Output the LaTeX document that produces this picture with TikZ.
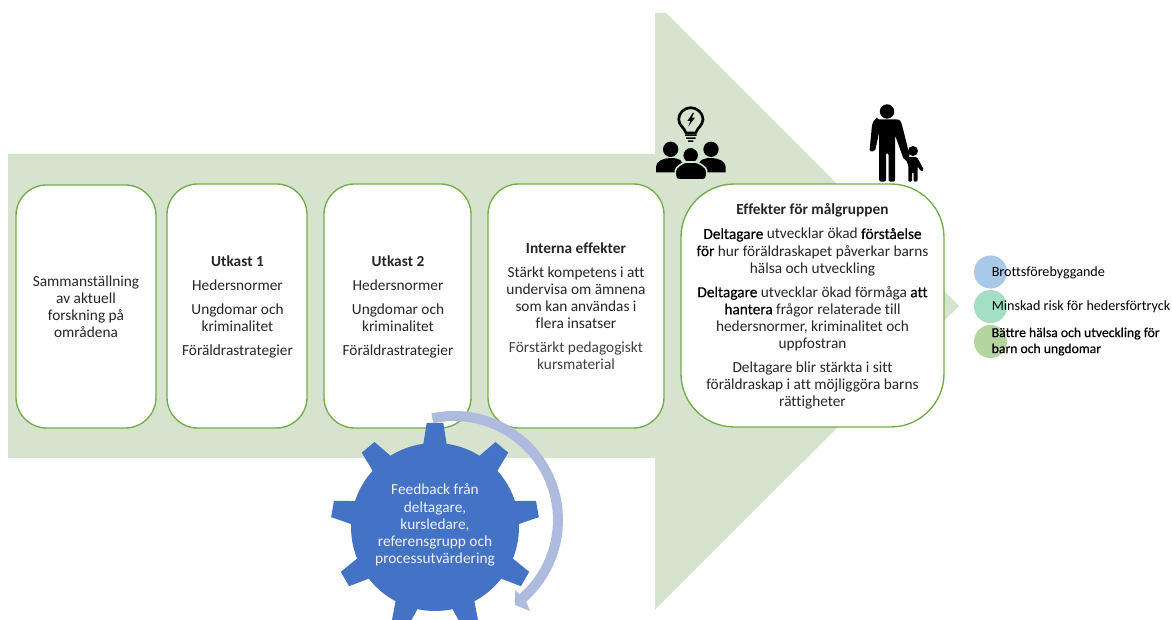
\documentclass[tikz,border=0pt]{standalone}
\usepackage{fontspec}
\setmainfont[Ligatures=NoCommon]{Carlito}
\newfontfamily\semibold[Ligatures=NoCommon,FakeBold=0.5]{Carlito}
\definecolor{arrowgreen}{HTML}{D6E3CF}
\definecolor{boxline}{HTML}{70AD47}
\definecolor{gearblue}{HTML}{4472C4}
\definecolor{ringblue}{HTML}{AFBBDE}
\definecolor{bodytext}{HTML}{262626}
\definecolor{softtext}{HTML}{404040}
\definecolor{bubbleblue}{HTML}{A9C9E8}
\definecolor{bubblemint}{HTML}{A3DFC3}
\definecolor{bubbleolive}{HTML}{B5D59F}
\definecolor{geartext}{HTML}{EEF2FA}
\tikzset{
  x=0.75pt,y=-0.75pt,
  stepbox/.style={draw=boxline,line width=1pt,fill=white},
  boxtext/.style={align=center,inner sep=0pt,text=bodytext,font=\fontsize{11.5}{12.8}\selectfont},
  outtext/.style={anchor=west,align=left,inner sep=0pt,text=black,font=\fontsize{10.6}{12}\selectfont},
  outtextb/.style={anchor=west,align=left,inner sep=0pt,text=black,font=\fontsize{10.25}{12}\selectfont},
  geartextstyle/.style={align=center,inner sep=0pt,text=geartext,font=\fontsize{11.5}{12.8}\selectfont},
  bubble/.style={circle,inner sep=0pt,minimum size=24.8pt},
}
\newcommand{\gap}{\\[5.3pt]}
\newcommand{\semib}[1]{{\semibold\color{black}#1}}
\begin{document}
\begin{tikzpicture}
\useasboundingbox (0,0) rectangle (1172,620);
\clip (0,0) rectangle (1172,620);
\fill[white] (0,0) rectangle (1172,620);
% big arrow
\fill[arrowgreen] (8,154) -- (655,154) -- (655,13) -- (666,13) -- (959,306) -- (655,609.5) -- (655,458) -- (8,458) -- cycle;
% boxes
\draw[stepbox,rounded corners=23] (16,185) rectangle (156,428);
\draw[stepbox,rounded corners=23] (167,184) rectangle (307,428);
\draw[stepbox,rounded corners=23] (324,184) rectangle (471,428);
\draw[stepbox,rounded corners=23] (488,184) rectangle (664,428);
\draw[stepbox,rounded corners=40] (681,184) rectangle (944,427);
\node[boxtext] (b1) at (86,307) {Sammanställning\\av aktuell\\forskning på\\områdena};
\node[boxtext] (b2) at (237.5,307) {\textbf{Utkast 1}\gap Hedersnormer\gap Ungdomar och\\kriminalitet\gap Föräldrastrategier};
\node[boxtext] (b3) at (398,307) {\textbf{Utkast 2}\gap Hedersnormer\gap Ungdomar och\\kriminalitet\gap Föräldrastrategier};
\node[boxtext] (b4) at (576,306) {\textbf{Interna effekter}\gap Stärkt kompetens i att\\undervisa om ämnena\\som kan användas i\\flera insatser\gap {\color{softtext}Förstärkt pedagogiskt}\\{\color{softtext}kursmaterial}};
\node[boxtext] (b5) at (812.5,306.5) {\textbf{Effekter för målgruppen}\gap \semib{Deltagare} utvecklar ökad \semib{förståelse}\\\semib{för} hur föräldraskapet påverkar barns\\hälsa och utveckling\gap \semib{Deltagare} utvecklar ökad förmåga \semib{att}\\\semib{hantera} frågor relaterade till\\hedersnormer, kriminalitet och\\uppfostran\gap Deltagare blir stärkta i sitt\\föräldraskap i att möjliggöra barns\\rättigheter};
% outcomes
\node[bubble,fill=bubbleblue] (c1) at (990.5,272) {};
\node[bubble,fill=bubblemint] (c2) at (990.5,306.5) {};
\node[bubble,fill=bubbleolive] (c3) at (990.5,341.5) {};
\node[outtext] (t1) at (991.5,272.5) {Brottsförebyggande};
\node[outtext] (t2) at (991.5,307) {Minskad risk för hedersförtryck};
\node[outtextb] (t3) at (991.5,341.5) {\semibold Bättre hälsa och utveckling för\\\semibold barn och ungdomar};
% gear
\fill[gearblue] (435,527) circle[radius=84];
\foreach \a in {90,50,10,-30,-70,-110,-150,170,130}{
  \fill[gearblue,shift={(435,527)},rotate=\a] (78,-12.5) -- (104,-8.3) -- (104,8.3) -- (78,12.5) -- cycle;
}
\node[geartextstyle] (g) at (435,525) {Feedback från\\deltagare,\\kursledare,\\referensgrupp och\\processutvärdering};
% ring arrow
\fill[ringblue] plot[domain=-102:48.5,samples=60] ({454+109*cos(\x)},{520+109*sin(\x)})
  -- (530,611) -- (515,605) -- (515,590)
  -- plot[domain=48.5:-102,samples=60] ({454+99*cos(\x)},{520+99*sin(\x)}) -- cycle;
% people with lightbulb
\begin{scope}[shift={(650,100)}]
\begin{scope}[x=0.25pt,y=-0.25pt]
  \draw[black,line width=2pt,line join=round] (108,99) .. controls (104,84) and (86,76) .. (86,58) .. controls (86,38) and (104,23) .. (122,23) .. controls (140,23) and (159,38) .. (159,58) .. controls (159,76) and (141,84) .. (137,99) -- cycle;
  \fill[black] (128,39) -- (112,63) -- (121,63) -- (115,79) -- (135,53) -- (125,53) -- (132,39) -- cycle;
  \fill[black] (105,103) rectangle (140,108) (108,112) rectangle (137,117) (114,121) rectangle (130,126);
  \fill[black] (62,148) circle[radius=23] (183,148) circle[radius=23];
  \fill[black] (18,217) -- (18,200) .. controls (18,184) and (40,174) .. (62,174) .. controls (85,174) and (100,180) .. (100,200) -- (75,217) -- cycle;
  \fill[black] (227,217) -- (227,200) .. controls (227,184) and (205,174) .. (183,174) .. controls (160,174) and (145,180) .. (145,200) -- (170,217) -- cycle;
  \filldraw[fill=black,draw=arrowgreen,line width=1pt] (122,166) circle[radius=24];
  \filldraw[fill=black,draw=arrowgreen,line width=1.2pt,rounded corners=3pt] (76,240) -- (76,224) .. controls (76,202) and (100,186) .. (122,186) .. controls (146,186) and (170,202) .. (170,224) -- (170,240) -- cycle;
\end{scope}
\end{scope}
% man and child
\fill[black] (887,111.5) circle[radius=7.2];
\fill[black,rounded corners=1.5pt] (877,119.3) -- (897,119.3) .. controls (900,120) and (901,122) .. (902,125)
  -- (910,157) -- (907,160.5) -- (904,160) -- (895,135) -- (895,181.7) -- (888.5,181.7) -- (888.5,153) -- (886,153) -- (886,181.7) -- (879.2,181.7) -- (879.2,132) -- (875,151.5) -- (869.5,151.5) -- (872,125) .. controls (873,122) and (874,120) .. (877,119.3) -- cycle;
\fill[black] (913,151) circle[radius=5];
\fill[black,rounded corners=1pt] (908,157) -- (917,157) -- (924,170) -- (921,171.5) -- (917.5,166) -- (917.5,181.7) -- (913.5,181.7) -- (913.5,172) -- (912,172) -- (912,181.7) -- (908.3,181.7) -- (908.3,165) -- (905,158) -- cycle;
\end{tikzpicture}
\end{document}
